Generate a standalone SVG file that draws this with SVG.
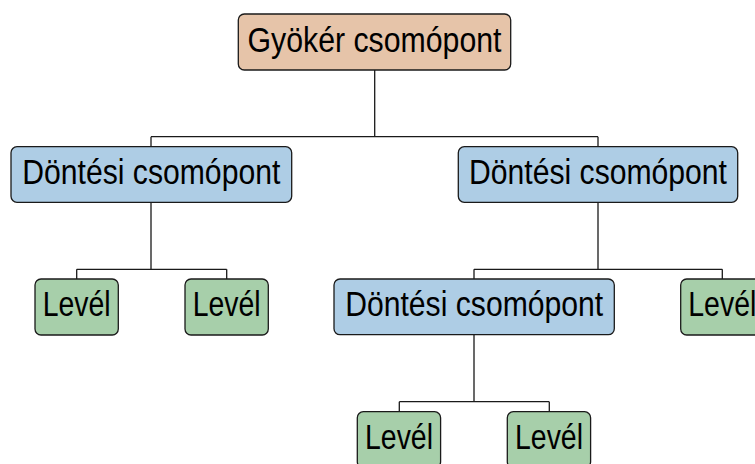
<svg xmlns="http://www.w3.org/2000/svg" width="755" height="464" viewBox="0 0 755 464">
  <style>
    .box { stroke: #1a1a1a; stroke-width: 1.3; }
    .root { fill: #E6C4A9; }
    .dec { fill: #AECDE5; }
    .leaf { fill: #A7CFAA; }
    .lbl { font-family: "Liberation Sans", "DejaVu Sans", sans-serif; font-size: 35px; fill: #000; text-anchor: middle; }
    .edge { fill: none; stroke: #1a1a1a; stroke-width: 1.3; }
  </style>
  <rect width="755" height="464" fill="#ffffff"/>

  <g id="connectors">
    <path class="edge" d="M374.7,70 V136.7 M151,136.7 H598 M151,136.7 V146.7 M598,136.7 V146.7"/>
    <path class="edge" d="M151,202.3 V269.3 M76.7,269.3 H226.7 M76.7,269.3 V279 M226.7,269.3 V279"/>
    <path class="edge" d="M598,202.3 V269.3 M474,269.3 H722.3 M474,269.3 V279 M722.3,269.3 V279"/>
    <path class="edge" d="M474,334.7 V401.7 M399.3,401.7 H549.3 M399.3,401.7 V411.7 M549.3,401.7 V411.7"/>
  </g>

  <g id="root">
    <rect class="box root" x="238.3" y="14" width="272.4" height="56" rx="6"/>
    <text class="lbl" x="374.5" y="52" textLength="254" lengthAdjust="spacingAndGlyphs">Gyökér csomópont</text>
  </g>

  <g id="decision-left">
    <rect class="box dec" x="11" y="146.7" width="280.7" height="55.6" rx="6"/>
    <text class="lbl" x="151.3" y="184" textLength="258" lengthAdjust="spacingAndGlyphs">Döntési csomópont</text>
  </g>

  <g id="decision-right">
    <rect class="box dec" x="458.3" y="146.7" width="279.4" height="55.6" rx="6"/>
    <text class="lbl" x="598" y="184" textLength="258" lengthAdjust="spacingAndGlyphs">Döntési csomópont</text>
  </g>

  <g id="leaf-1">
    <rect class="box leaf" x="35" y="279" width="83.3" height="56" rx="6"/>
    <text class="lbl" x="76.7" y="316" textLength="68" lengthAdjust="spacingAndGlyphs">Levél</text>
  </g>

  <g id="leaf-2">
    <rect class="box leaf" x="185" y="279" width="83.3" height="56" rx="6"/>
    <text class="lbl" x="226.7" y="316" textLength="68" lengthAdjust="spacingAndGlyphs">Levél</text>
  </g>

  <g id="decision-inner">
    <rect class="box dec" x="334" y="279" width="280.3" height="55.7" rx="6"/>
    <text class="lbl" x="474.2" y="316" textLength="258" lengthAdjust="spacingAndGlyphs">Döntési csomópont</text>
  </g>

  <!-- partly beyond the right edge of the canvas -->
  <g id="leaf-3">
    <rect class="box leaf" x="680.7" y="279" width="83.3" height="56" rx="6"/>
    <text class="lbl" x="722.3" y="316" textLength="68" lengthAdjust="spacingAndGlyphs">Levél</text>
  </g>

  <g id="leaf-4">
    <rect class="box leaf" x="357.3" y="411.7" width="83.3" height="56" rx="6"/>
    <text class="lbl" x="399" y="448.7" textLength="68" lengthAdjust="spacingAndGlyphs">Levél</text>
  </g>

  <g id="leaf-5">
    <rect class="box leaf" x="507.3" y="411.7" width="83.3" height="56" rx="6"/>
    <text class="lbl" x="549" y="448.7" textLength="68" lengthAdjust="spacingAndGlyphs">Levél</text>
  </g>
</svg>
